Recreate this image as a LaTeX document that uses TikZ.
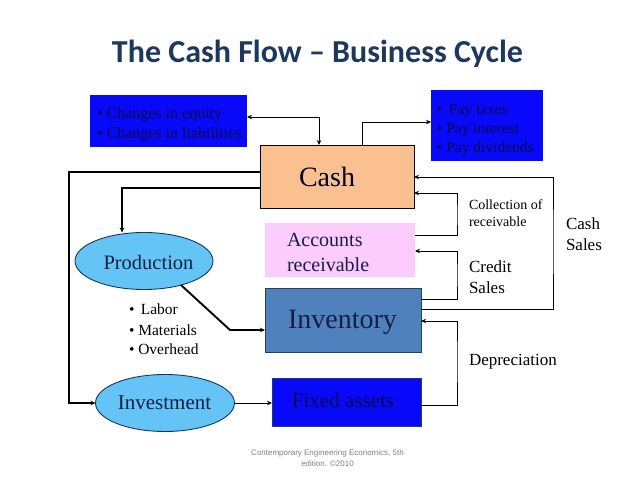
\documentclass[tikz,border=0pt]{standalone}
\usepackage{fontspec}
\setmainfont{Liberation Serif}
\newfontfamily\titlefont{Carlito}
\newfontfamily\footfont{Liberation Sans}
\usetikzlibrary{shapes.geometric,arrows.meta}
\definecolor{titlecol}{RGB}{28,56,92}
\definecolor{boxblue}{RGB}{8,8,250}
\definecolor{boxtext}{RGB}{12,12,70}
\definecolor{cashfill}{RGB}{250,192,144}
\definecolor{arfill}{RGB}{252,204,252}
\definecolor{invfill}{RGB}{79,129,189}
\definecolor{invborder}{RGB}{36,63,96}
\definecolor{ellfill}{RGB}{100,196,245}
\definecolor{ellborder}{RGB}{23,55,94}
\definecolor{ntext}{RGB}{20,30,70}
\tikzset{
  thinline/.style={draw=black,line width=0.9pt},
  thickline/.style={draw=black,line width=1.9pt},
  tip/.style={-{Stealth[length=5pt,width=4.5pt]}},
  boxbase/.style={rectangle,inner sep=0pt,outer sep=0pt},
  ellbase/.style={ellipse,inner sep=0pt,outer sep=0pt,fill=ellfill,draw=ellborder,line width=0.9pt},
  lbl/.style={inner sep=0pt,outer sep=0pt,anchor=west,align=left},
}
\begin{document}
\begin{tikzpicture}[x=1pt,y=-1pt]
\useasboundingbox[fill=white] (0,0) rectangle (638,479);

% title
\node[inner sep=0pt,anchor=base,text=titlecol,font=\titlefont\bfseries\fontsize{32}{36}\selectfont] (title) at (317.5,62) {The Cash Flow – Business Cycle};

% boxes
\node[boxbase,fill=boxblue,minimum width=157,minimum height=52] (leftbox) at (168.5,121) {};
\node[boxbase,fill=boxblue,minimum width=112,minimum height=71] (rightbox) at (487,125.5) {};
\node[boxbase,fill=cashfill,draw=black,line width=0.9pt,minimum width=154,minimum height=63] (cash) at (337,176.5) {};
\node[boxbase,fill=arfill,minimum width=150,minimum height=54] (ar) at (340,250) {};
\node[boxbase,fill=invfill,draw=invborder,line width=0.9pt,minimum width=156,minimum height=64] (inv) at (343,320) {};
\node[boxbase,fill=boxblue,draw=invborder,line width=0.6pt,minimum width=149,minimum height=48] (fixed) at (346.5,402) {};
\node[ellbase,minimum width=138,minimum height=57] (prod) at (144,261) {};
\node[ellbase,minimum width=139,minimum height=57] (invest) at (165,403) {};

% texts in boxes
\node[lbl,text=boxtext,font=\fontsize{16}{20}\selectfont] (lefttext) at (97,125) {• Changes in equity\\• Changes in liabilities};
\node[lbl,text=boxtext,font=\fontsize{15.5}{19}\selectfont] (righttext) at (437,130) {• \,Pay taxes\\• Pay interest\\• Pay dividends};
\node[inner sep=0pt,text=black!85!blue,font=\fontsize{28}{30}\selectfont] (cashtext) at (327,177) {Cash};
\node[lbl,text=ntext,font=\fontsize{20}{25}\selectfont] (artext) at (287,252.5) {Accounts\\receivable};
\node[inner sep=0pt,text=ntext,font=\fontsize{28}{30}\selectfont] (invtext) at (342.5,322) {Inventory};
\node[inner sep=0pt,text=boxtext,font=\fontsize{21}{24}\selectfont] (fixedtext) at (343,400) {Fixed assets};
\node[inner sep=0pt,text=ntext,font=\fontsize{20.5}{24}\selectfont] (prodtext) at (148.5,262) {Production};
\node[inner sep=0pt,text=ntext,font=\fontsize{21}{24}\selectfont] (investtext) at (164.5,403) {Investment};

% bullets under production
\node[lbl,font=\fontsize{15.5}{18}\selectfont] (labor) at (129,309) {• \,Labor};
\node[lbl,font=\fontsize{15.5}{18}\selectfont] (materials) at (129,330) {• Materials};
\node[lbl,font=\fontsize{15.5}{18}\selectfont] (overhead) at (129,349) {• Overhead};

% right labels
\node[lbl,font=\fontsize{14}{17}\selectfont] (collect) at (469,213.5) {Collection of\\receivable};
\node[lbl,font=\fontsize{17}{21}\selectfont] (cashsales) at (566,234.5) {Cash\\Sales};
\node[lbl,font=\fontsize{17}{21}\selectfont] (credit) at (469,277.5) {Credit\\Sales};
\node[lbl,font=\fontsize{17}{20}\selectfont] (deprec) at (469,362) {Depreciation};

% footer
\node[inner sep=0pt,align=center,text=gray,font=\footfont\fontsize{8}{11}\selectfont] (footer) at (327.5,458.5) {Contemporary Engineering Economics, 5th\\edition. ©2010};

% helper coordinates
\coordinate (lx) at (69,300);
\coordinate (bend) at (230,330);
\coordinate (rx1) at (457,215);
\coordinate (rx2) at (457,275);
\coordinate (rx3) at (553,240);
\coordinate (rx4) at (457,360);

% connectors
\draw[thinline,{Stealth[length=5pt,width=4.5pt]}-{Stealth[length=5pt,width=4.5pt]}] ([yshift=4pt]leftbox.east) -| ([xshift=-18pt]cash.north);
\draw[thinline,tip] ([xshift=25pt]cash.north) |- ([yshift=3.5pt]rightbox.west);
\draw[thickline,tip] ([yshift=4.5pt]cash.west) -| (lx) |- (invest.west);
\draw[thickline,tip] ([yshift=-11.5pt]cash.west) -| ([xshift=-22pt]prod.north);
\draw[thickline,tip] (prod.-33) -- (bend) -- ([yshift=-10pt]inv.west);
\draw[thinline,tip] (invest.east) -- (invest.east -| fixed.west);
\draw[thinline,tip] ([yshift=15pt]ar.east) -| (rx1) |- ([yshift=-16.5pt]cash.east);
\draw[thinline,tip] ([yshift=21pt]inv.east) -| (rx2) |- ([yshift=-1pt]ar.east);
\draw[thinline,tip] ([yshift=11pt]inv.east) -| (rx3) |- ([yshift=-0.5pt]cash.east);
\draw[thinline,tip] ([yshift=-3pt]fixed.east) -| (rx4) |- ([yshift=-1pt]inv.east);
\end{tikzpicture}
\end{document}
